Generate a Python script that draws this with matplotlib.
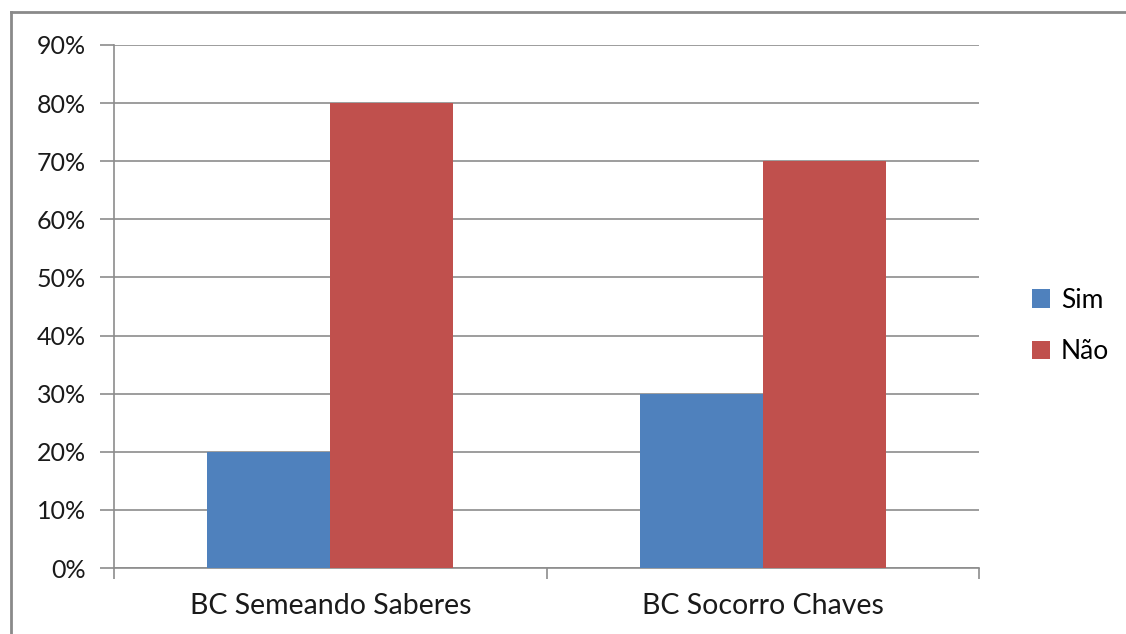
import matplotlib.pyplot as plt
import numpy as np
from matplotlib.lines import Line2D
from matplotlib.ticker import FuncFormatter

categories = ['BC Semeando Saberes', 'BC Socorro Chaves']
sim = [0.20, 0.30]
nao = [0.80, 0.70]
series_names = ['Sim', 'Não']

plt.rcParams['font.family'] = ['Lato', 'DejaVu Sans']

fig = plt.figure(figsize=(11.26, 6.34), dpi=100)
ax = fig.add_axes([114 / 1126, 1 - 568 / 634, 865 / 1126, 523 / 634])

x = np.arange(len(categories))
w = 0.284
ax.bar(x - w / 2, sim, w, color='#4F81BD', label=series_names[0], zorder=3)
ax.bar(x + w / 2, nao, w, color='#C0504D', label=series_names[1], zorder=3)

ax.set_xlim(-0.5, 1.5)
ax.set_ylim(0, 0.9)
ax.set_yticks(np.arange(0, 0.91, 0.1))
ax.yaxis.set_major_formatter(FuncFormatter(lambda v, p: '%d%%' % round(v * 100)))
ax.grid(axis='y', color='#8c8c8c', linewidth=1.2, zorder=0)

# category ticks on the boundaries, labels centered
ax.set_xticks([-0.5, 0.5, 1.5])
ax.set_xticklabels([])
ax.set_xticks(x, minor=True)
ax.set_xticklabels(categories, minor=True)
ax.tick_params(axis='x', which='minor', length=0, pad=18, labelsize=20.5, colors='#1a1a1a')
ax.tick_params(axis='x', which='major', length=8, color='#8c8c8c', width=1.2)
ax.tick_params(axis='y', length=10, color='#8c8c8c', width=1.2, pad=10, labelsize=18,
               labelcolor='#1a1a1a')

for s in ['top', 'right']:
    ax.spines[s].set_visible(False)
for s in ['left', 'bottom']:
    ax.spines[s].set_color('#8c8c8c')
    ax.spines[s].set_linewidth(1.2)

fig.legend(loc='center left', bbox_to_anchor=(1008 / 1126, 1 - 326 / 634), frameon=False,
           fontsize=19, handlelength=0.7, handleheight=0.7, handletextpad=0.4,
           labelspacing=1.0)

# outer chart border
fig.add_artist(Line2D([11 / 1126, 11 / 1126], [0, 1 - 12 / 634], color='#8a8a8a', linewidth=2))
fig.add_artist(Line2D([11 / 1126, 1], [1 - 12 / 634, 1 - 12 / 634], color='#8a8a8a', linewidth=2))

fig.savefig('out.png', dpi=100)
